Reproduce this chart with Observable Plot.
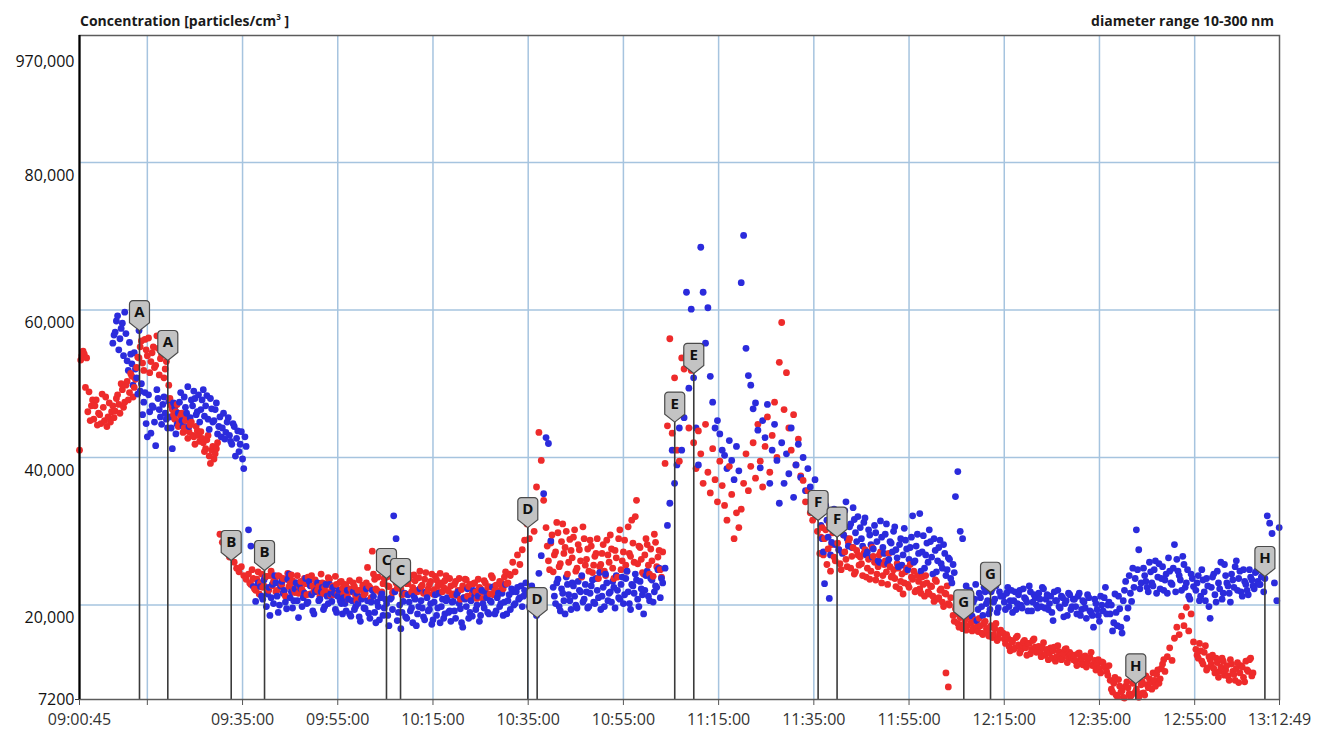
<!DOCTYPE html>
<html>
<head>
<meta charset="utf-8">
<script src="https://cdn.jsdelivr.net/npm/d3@7"></script>
<script src="https://cdn.jsdelivr.net/npm/@observablehq/plot@0.6"></script>
<style>
  body { margin: 0; background: #fff; font-family: "Open Sans", sans-serif; }
  #wrap { position: relative; width: 1322px; height: 731px; }
  .title { position: absolute; top: 11px; font-weight: 700; font-size: 14px; color: #1a1a1a; white-space: nowrap; }
  .title sup { font-size: 8px; vertical-align: 6px; line-height: 0; }
  #chart { position: absolute; left: 0; top: 0; }
</style>
</head>
<body>
<div id="wrap">
  <div id="chart"></div>
  <div class="title" style="left:80px">Concentration [particles/cm<sup>3</sup> ]</div>
  <div class="title" style="right:48px">diameter range 10-300 nm</div>
</div>
<script>
// ---- time axis ----
const startTime = "09:00:45";
const endTime = "13:12:49";
const sampleSeconds = 30; // one reading every 30 s, index 0 = startTime (x.5 = 15 s later)
const gridTimes = ["09:15:00","09:35:00","09:55:00","10:15:00","10:35:00","10:55:00","11:15:00","11:35:00","11:55:00","12:15:00","12:35:00","12:55:00"];
const tickTimes = ["09:00:45","09:15:00","09:35:00","09:55:00","10:15:00","10:35:00","10:55:00","11:15:00","11:35:00","11:55:00","12:15:00","12:35:00","12:55:00","13:12:49"];
const labelTimes = ["09:00:45","09:35:00","09:55:00","10:15:00","10:35:00","10:55:00","11:15:00","11:35:00","11:55:00","12:15:00","12:35:00","12:55:00","13:12:49"];

// ---- y axis ----
const yDomain = [7200, 97200];
const gridValues = [20000, 40000, 60000, 80000];
const bottomLabel = [7200];
const topLabel = "970,000";

// ---- series (values in thousand particles/cm3), [start index, values] ----
const redSegments = [
  [0, [41.0, 53.8, 54.0, 53.5, 48.9, 47.0]],
  [0.5, [53.2, 54.4, 49.5, 46.2, 45.0, 47.8]],
  [6, [45.2, 47.8, 46.0, 44.6, 46.8, 48.2, 45.5, 44.8, 47.0, 46.3]],
  [6.5, [47.0, 44.4, 45.8, 48.6, 45.0, 44.2, 47.4, 46.2, 45.4, 48.0]],
  [16, [48.5, 46.0, 49.2, 47.5, 50.3, 48.8, 51.0, 49.5, 52.2]],
  [16.5, [47.2, 50.0, 46.8, 49.8, 47.8, 51.4, 48.2, 50.6, 53.6]],
  [25, [53.5, 55.8, 51.8, 54.6, 56.2, 53.0, 55.0, 52.5, 54.8, 53.4, 55.5, 52.0, 53.8]],
  [25.5, [55.0, 52.8, 56.0, 53.8, 51.5, 54.2, 52.2, 56.5, 51.2, 54.0, 50.8, 53.0, 49.8]],
  [38, [48.0, 46.5, 45.2, 47.2, 44.8, 46.0, 44.0, 45.5, 43.5, 44.8, 42.8, 44.2, 43.0]],
  [38.5, [47.0, 45.8, 46.2, 44.2, 45.6, 43.4, 45.0, 42.6, 44.4, 43.0, 41.8, 43.6, 42.2]],
  [51, [43.5, 42.0, 41.2, 43.0, 39.2, 41.5, 40.5, 42.0]],
  [51.5, [42.6, 40.8, 42.4, 40.2, 41.0, 39.8, 41.2]],
  [59, [29.6, 28.5, 28.0]],
  [62, [27.5, 26.5, 27.0, 25.8, 25.0, 24.5, 25.2, 24.0, 23.5]],
  [71, [24.2, 22.8, 23.6, 22.0, 24.5, 23.0, 22.4, 23.8, 21.8, 24.0, 22.6, 23.4, 22.0, 23.9, 22.8, 21.9, 23.5, 22.5, 24.1, 22.2, 23.0, 21.6]],
  [71.5, [23.0, 24.8, 22.2, 23.5, 21.5, 24.2, 22.6, 23.9, 22.0, 24.6, 23.2, 21.8, 24.0, 22.5, 23.6, 21.2, 24.3, 22.9, 23.3, 21.7, 24.0, 22.4]],
  [93, [23.2, 21.8, 22.9, 23.8, 21.5, 22.6, 23.4, 22.0, 21.2, 23.0, 22.4, 21.7, 23.5, 22.3, 21.4, 22.8, 22.0, 23.2]],
  [93.5, [22.1, 23.6, 21.4, 22.8, 24.0, 21.9, 23.0, 22.5, 24.2, 21.6, 22.9, 23.7, 21.3, 22.6, 23.9, 21.5, 23.1, 22.3]],
  [111, [21.5, 22.6, 20.8, 22.2, 23.0, 21.3, 22.0, 20.9, 22.7, 21.6, 25.1, 22.4, 27.3, 23.5, 22.0, 25.0, 21.8, 23.6]],
  [111.5, [22.8, 21.2, 23.3, 21.8, 22.5, 20.6, 23.4, 22.1, 21.4, 23.0, 22.6, 21.0, 24.2, 22.2, 23.8, 21.6, 22.9, 24.4]],
  [129, [23.8, 22.5, 24.4, 21.9, 23.0, 24.8, 22.2, 23.6, 21.5, 22.9, 24.0, 22.4, 23.3, 21.8, 24.6, 22.7, 23.5, 21.6, 22.8, 24.2, 22.1, 23.4, 21.7, 23.0, 22.4, 24.0, 21.9, 22.6]],
  [129.5, [22.6, 23.9, 21.7, 24.2, 22.3, 23.1, 21.4, 24.5, 22.9, 23.5, 21.8, 24.1, 22.0, 23.7, 22.5, 21.6, 24.4, 22.2, 23.2, 21.5, 23.9, 22.6, 24.3, 21.8, 23.3, 22.1, 23.6, 21.4]],
  [157, [21.5, 23.2, 22.0, 20.8, 22.6, 23.5, 21.2, 22.8, 21.6, 23.0, 20.9, 22.4, 21.8, 23.3, 21.0, 22.5, 24.0, 21.4, 22.7, 21.9, 23.1, 22.2, 24.5, 23.0]],
  [157.5, [22.8, 21.3, 23.6, 22.1, 21.0, 23.4, 22.5, 20.7, 22.9, 21.8, 23.5, 22.2, 20.9, 23.0, 22.4, 21.5, 23.7, 22.0, 21.2, 23.2, 22.6, 23.8, 22.9, 24.2]],
  [181, [24.0, 25.8, 24.5, 26.8, 25.5, 27.5, 28.8]],
  [188, [31.0, 29.0, 32.2, 30.0, 36.0, 43.4, 39.6, 34.2]],
  [196, [30.5, 26.0, 28.4, 24.5, 27.2, 29.8, 25.6, 31.0, 27.8, 24.2, 28.9, 26.4, 30.2, 25.0, 27.5, 23.8, 29.0, 26.2, 24.6, 28.0, 25.4, 27.0, 23.6]],
  [196.5, [28.0, 24.8, 29.5, 26.8, 31.2, 25.2, 28.6, 27.0, 30.0, 25.8, 27.4, 29.2, 24.6, 28.2, 26.0, 30.6, 25.4, 27.6, 28.8, 24.4, 26.6, 29.0, 25.2]],
  [219, [25.5, 28.2, 24.0, 26.8, 29.5, 25.0, 27.4, 23.8, 30.2, 26.0, 28.8, 24.6, 27.0, 31.5, 25.8, 34.2, 28.0, 26.2, 24.2, 29.0, 25.4, 27.6, 23.9, 28.5, 26.5, 24.8, 27.2]],
  [219.5, [27.0, 24.6, 28.8, 25.8, 27.6, 23.6, 26.4, 29.0, 24.8, 27.2, 25.4, 30.6, 26.6, 28.4, 32.0, 25.6, 27.8, 24.4, 26.8, 28.2, 24.2, 26.0, 29.6, 25.2, 27.4, 23.8]],
  [246, [39.2, 44.3, 56.1, 43.3, 50.8, 41.0, 39.5]],
  [253, [53.5, 52.0, 54.0, 44.0, 51.8, 42.0, 38.5, 43.6]],
  [261, [40.5, 36.5, 44.5, 38.0, 35.2, 41.2, 37.0, 34.0, 39.5, 36.2, 33.5, 31.5, 38.8, 35.0, 29.0, 32.5, 30.5]],
  [278, [33.0, 36.5, 40.5, 35.5, 38.8, 42.0, 37.2, 44.5, 39.5, 36.0, 41.5, 45.5, 38.0, 43.0, 47.5, 40.0, 52.9]],
  [295, [58.3, 46.5, 51.5, 44.0, 41.0, 45.8, 39.0, 42.5, 37.5]],
  [304, [36.9, 34.0, 35.5, 32.5, 31.5, 33.5, 30.0]],
  [311, [27.0, 30.5, 29.0, 25.5, 31.0, 28.2, 26.5, 30.0, 27.5, 24.8, 29.5, 26.2, 28.5, 25.0, 27.8, 24.5, 26.8]],
  [311.5, [29.2, 26.8, 30.2, 27.6, 24.6, 29.8, 26.0, 28.4, 25.6, 30.6, 27.2, 25.2, 29.0, 26.6, 24.2, 27.4, 25.4]],
  [328, [26.5, 24.0, 27.5, 25.0, 23.5, 27.8, 25.8, 24.2, 26.8, 23.0, 25.5, 24.5, 27.0, 23.8]],
  [342, [24.8, 22.5, 25.0, 23.2, 21.5, 24.5, 22.8, 25.5, 23.5, 21.8, 24.0, 22.2, 23.8, 21.2]],
  [356, [23.0, 21.5, 22.5, 20.5, 23.2, 21.0, 22.2, 19.8, 21.5, 20.2, 21.0]],
  [328.5, [25.6, 27.0, 23.8, 26.2, 24.6, 26.6, 23.4, 25.2, 27.2, 24.0, 26.0, 22.8, 25.2, 24.0,
           23.6, 25.6, 22.2, 24.2, 23.0, 25.0, 22.4, 23.8, 24.6, 22.0, 23.2, 21.6, 22.8, 24.0,
           21.8, 22.6, 21.2, 23.4, 20.8, 22.0, 20.4, 21.6, 22.6, 20.0]],
  [364, [10.8, 8.9]],
  [367, [18.6, 19.5, 17.5, 18.3, 16.8, 18.0, 17.2, 19.0, 16.5, 17.8, 17.0, 18.2, 16.2, 17.5, 16.8, 15.8, 17.2, 16.0, 17.5, 15.5, 16.6]],
  [367.5, [17.8, 18.8, 17.0, 18.6, 17.4, 16.6, 18.4, 17.6, 16.9, 18.0, 16.4, 17.2, 16.0, 17.8, 16.4, 17.0, 15.6, 16.8, 15.2, 16.2]],
  [388, [16.2, 14.8, 15.5, 13.8, 15.0, 14.2, 15.8, 13.5, 14.6, 15.2, 13.2, 14.8, 14.0, 15.4, 13.6]],
  [403, [14.4, 13.0, 14.9, 13.4, 12.6, 14.2, 13.8, 12.4, 14.5, 13.1, 12.8, 14.0, 12.2, 13.6, 12.9]],
  [418, [13.2, 11.8, 13.5, 12.4, 13.0, 11.6, 12.8, 13.6, 12.0, 11.2, 12.6, 10.8, 12.2, 11.5, 10.5]],
  [388.5, [15.4, 16.0, 14.4, 15.2, 14.0, 15.6, 14.6, 13.9, 15.0, 14.2, 14.8, 13.4, 15.2, 14.3, 13.8,
           13.6, 14.2, 13.2, 14.0, 13.5, 12.8, 14.3, 13.0, 13.7, 12.6, 13.4, 14.1, 12.9, 13.3, 12.6,
           12.4, 13.4, 12.7, 11.9, 13.1, 12.3, 12.9, 11.8, 12.5, 12.0, 11.4, 12.3, 11.7, 11.0, 11.8]],
  [433, [9.8, 8.2, 10.2, 7.6, 9.0, 8.4, 7.4, 9.6, 8.0, 7.8, 10.0, 8.6, 7.5, 9.2, 8.1, 10.4, 8.8, 9.5, 10.8, 9.0, 11.2, 10.0, 12.0, 11.0]],
  [433.5, [8.6, 9.4, 7.8, 9.9, 8.2, 7.5, 9.0, 8.8, 7.6, 9.4, 8.2, 10.2, 8.0, 9.6, 7.8, 9.2, 10.0, 8.6, 9.8, 10.6, 9.4, 11.4, 12.6]],
  [457, [13.0, 14.2, 12.5, 15.5, 17.0, 16.0, 18.5, 17.2, 19.7, 16.5, 18.8, 15.0]],
  [469, [14.0, 12.8, 13.8, 12.0, 14.5, 11.5, 12.6, 13.2, 10.8, 12.2, 11.0, 12.8, 10.5, 11.8, 9.8, 12.0, 10.6, 11.4, 9.5, 11.8, 10.2, 12.4, 11.0, 12.8, 10.8]],
  [469.5, [13.2, 14.8, 12.4, 13.6, 11.2, 13.0, 12.0, 11.4, 12.8, 10.2, 11.6, 12.4, 11.2, 10.4, 12.6, 11.0, 9.8, 12.2, 10.8, 11.6, 9.6, 11.2, 12.6, 10.4]]
];

const blueSegments = [
  [14, [55.5, 57.0, 59.2, 56.1, 58.2, 59.7, 53.1, 55.6, 52.7, 54.2, 50.8]],
  [14.5, [56.6, 58.5, 54.6, 57.5, 53.8, 56.8, 51.8, 54.0, 49.8, 52.0, 48.6]],
  [25, [57.2, 50.0, 47.5, 44.6, 48.5, 43.3, 46.8, 41.6, 48.0, 45.5, 47.2, 46.0, 44.0]],
  [25.5, [49.0, 45.8, 48.8, 42.8, 46.2, 47.0, 44.8, 49.2, 46.5, 44.5, 48.2, 45.2, 47.6]],
  [38, [45.5, 41.2, 46.8, 44.5, 47.5, 45.0, 48.2, 46.0, 44.2, 47.8, 49.0, 45.8, 48.5]],
  [38.5, [44.0, 47.4, 43.2, 46.0, 48.8, 44.2, 46.8, 49.6, 45.4, 47.0, 48.0, 46.2, 44.8]],
  [51, [46.5, 49.2, 47.0, 45.2, 48.0, 44.8, 46.5, 43.2, 45.5, 44.0, 42.5, 44.8]],
  [51.5, [47.8, 45.6, 48.4, 43.8, 46.6, 45.0, 47.4, 44.2, 42.8, 46.0, 43.4, 45.4]],
  [63, [43.0, 41.8, 44.2, 42.6, 40.8, 43.5, 38.5, 41.5]],
  [63.5, [42.2, 44.6, 40.2, 43.6, 41.8, 39.8, 42.8]],
  [71, [30.2, 28.0, 22.5, 20.5, 23.0]],
  [76, [22.5, 20.8, 23.8, 21.5, 18.6, 22.8, 24.0, 21.2, 20.0, 23.2, 22.0, 19.5, 24.2, 21.8, 20.6]],
  [76.5, [21.2, 23.4, 19.8, 22.4, 21.0, 20.2, 23.0, 19.0, 22.6, 21.6, 20.4, 23.5, 21.0, 19.6, 22.2]],
  [91, [23.0, 18.3, 22.2, 21.0, 23.6, 20.4, 22.6, 19.2, 21.8, 23.0, 20.8, 22.4, 19.8, 21.2, 22.8]],
  [91.5, [20.6, 22.8, 19.8, 21.6, 20.2, 23.2, 21.4, 18.8, 22.0, 20.6, 21.8, 19.4, 22.8, 20.2, 21.5]],
  [106, [20.5, 21.6, 19.0, 22.0, 20.2]],
  [106.5, [22.4, 19.4, 21.2, 20.6, 18.8]],
  [111, [21.0, 19.2, 20.8, 18.5, 21.8, 19.8, 20.2, 17.8, 21.2, 19.5, 20.6, 18.2, 22.0, 19.0, 20.4, 18.0, 21.5, 19.6]],
  [111.5, [20.2, 22.0, 18.8, 20.6, 19.4, 21.6, 18.4, 20.8, 19.6, 22.2, 18.9, 20.4, 21.2, 17.6, 19.8, 21.0, 18.6, 20.8]],
  [129, [20.2, 17.2, 21.0, 32.1, 29.0, 19.0, 16.8, 20.5, 18.4, 21.4, 19.2, 17.6, 20.8, 18.8, 22.2, 19.6, 18.0, 21.0, 19.4, 17.4, 20.4, 18.6, 21.6, 19.8, 18.2, 20.6, 19.0, 17.8]],
  [129.5, [18.6, 20.8, 19.4, 21.8, 17.9, 20.0, 19.0, 21.6, 18.2, 20.4, 19.6, 21.2, 17.2, 19.8, 20.6, 18.4, 21.8, 19.2, 20.2, 18.0, 21.4, 19.6, 17.6, 20.8, 18.8, 21.0, 19.2, 20.4]],
  [157, [20.5, 18.2, 21.8, 19.5, 17.0, 20.8, 22.2, 19.0, 18.5, 21.2, 20.0, 17.8, 22.0, 19.6, 21.0, 18.8, 20.4, 22.5, 19.2, 21.6, 20.2, 18.6, 22.8, 20.6, 19.4, 21.8, 20.2, 22.4, 21.0, 19.8, 22.0]],
  [157.5, [19.2, 21.4, 20.2, 17.6, 21.0, 19.8, 18.2, 20.6, 22.0, 19.4, 21.2, 18.6, 20.2, 21.8, 19.0, 20.6, 22.4, 18.8, 21.0, 19.8, 21.6, 20.4, 18.8, 21.4, 22.2, 20.0, 21.8, 20.8, 22.6, 21.2, 23.0]],
  [188, [21.5, 19.8, 22.6, 20.4, 18.6, 24.3, 26.7, 35.1]],
  [196, [42.7, 41.9, 28.7]],
  [199, [22.4, 20.2, 23.5, 19.2, 21.6, 18.8, 22.8, 20.6, 23.0, 21.2, 19.6, 22.0, 24.0, 20.8, 21.8]],
  [214, [19.8, 22.6, 20.4, 23.6, 21.0, 19.4, 22.4, 24.2, 20.6, 21.8, 23.2, 19.6, 22.0, 20.8, 23.8]],
  [229, [21.4, 24.6, 20.2, 22.8, 21.6, 23.4, 19.8, 22.2, 18.8, 24.0, 21.2, 23.6, 20.4, 22.6, 24.8, 21.0, 23.0]],
  [199.5, [21.2, 23.0, 19.8, 22.2, 20.6, 23.8, 21.4, 19.4, 22.6, 20.0, 23.2, 21.8, 20.4, 22.8, 19.6,
           21.6, 23.4, 20.2, 22.0, 24.4, 21.2, 19.8, 23.0, 21.6, 20.4, 22.4, 24.0, 21.0, 22.8, 20.2,
           23.6, 21.8, 19.4, 22.6, 24.2, 20.8, 23.2, 21.4, 22.0, 24.6, 20.6, 23.4, 21.8, 22.4, 25.0, 23.6]],
  [246, [25.0, 30.8, 33.8, 41.0, 36.5, 39.0, 44.0]],
  [253, [41.0, 45.4, 62.4, 49.4, 60.1, 50.8, 44.0, 39.0]],
  [261, [68.5, 62.4, 55.5, 60.3, 51.0, 47.5, 44.0, 45.0, 43.2, 41.0, 40.3, 38.5, 42.3, 39.6, 37.0, 41.5, 38.2]],
  [278, [63.7, 70.1, 54.8, 51.1, 49.8, 46.6]],
  [284, [47.4, 43.7, 38.6, 45.0, 42.7, 47.2, 36.5, 41.0, 44.5, 39.6, 33.8, 42.0, 36.5, 40.5, 37.8, 44.0, 34.6, 39.0, 41.8, 37.3, 40.0, 35.5, 38.5, 36.0, 34.5, 37.0, 33.0]],
  [311, [32.5, 29.0, 22.9, 31.5, 20.9, 28.5, 33.0, 30.0, 27.5, 31.8, 29.5, 34.0, 28.0, 31.0, 33.2, 29.8, 32.0]],
  [311.5, [30.8, 27.2, 33.5, 29.2, 26.8, 31.2, 28.2, 32.6, 30.4, 27.0, 32.8, 29.0, 30.6, 27.8, 31.6, 28.6]],
  [328, [30.5, 28.0, 31.8, 27.2, 29.5, 26.5, 30.8, 28.6, 25.8, 29.2, 27.0, 31.0, 26.2, 28.4, 30.0]],
  [343, [27.5, 25.2, 29.0, 26.8, 28.8, 24.8, 27.8, 32.1, 26.0, 29.6, 32.4, 27.2, 25.0, 28.4, 30.2]],
  [358, [26.5, 29.0, 24.5, 27.8, 25.6, 28.2, 24.0, 26.4, 23.6, 25.5, 34.7, 38.1, 30.0]],
  [328.5, [29.0, 31.2, 26.8, 30.2, 28.2, 27.6, 29.8, 26.0, 31.4, 27.8, 29.6, 25.6, 28.6, 27.2, 30.6,
           26.4, 28.2, 25.4, 30.4, 27.6, 26.2, 29.2, 25.8, 28.0, 27.0, 24.6, 29.4, 26.8, 25.8, 28.6,
           24.2, 27.4, 26.0, 28.8, 25.0, 27.0, 24.8, 26.2, 23.0, 24.4]],
  [371, [29.0, 21.5, 19.5, 22.0, 18.5, 20.8, 17.9, 21.6, 19.8, 22.4, 20.2, 18.8, 21.8, 20.4, 22.6, 19.6, 21.2]],
  [371.5, [20.8, 22.6, 19.0, 21.2, 20.4, 22.8, 19.4, 21.0, 18.6, 21.8, 20.6, 19.4, 22.2, 20.8, 19.0, 21.8]],
  [388, [21.2, 19.4, 22.4, 20.6, 19.0, 21.8, 20.2, 22.0, 19.6, 21.0, 20.4, 22.6, 19.2, 21.4, 20.0]],
  [403, [21.6, 19.8, 22.2, 20.8, 19.4, 21.2, 17.9, 20.6, 22.0, 19.6, 21.0, 20.2, 18.6, 21.4, 19.8]],
  [418, [20.8, 18.8, 21.6, 19.4, 20.4, 18.2, 21.0, 19.0, 17.0, 20.2, 18.6, 21.2, 19.2, 22.4, 20.0]],
  [388.5, [20.4, 21.6, 19.8, 22.0, 20.6, 19.4, 21.4, 20.0, 22.2, 20.8, 19.2, 21.8, 20.4, 21.0, 19.6,
           20.8, 22.4, 19.6, 21.4, 20.2, 19.0, 21.8, 20.6, 19.8, 21.2, 18.4, 20.6, 21.6, 19.4, 20.8,
           19.8, 21.2, 18.6, 20.6, 19.6, 21.4, 19.2, 18.6, 20.8, 19.4, 17.8, 20.0, 21.0, 18.8, 20.4]],
  [433, [18.8, 16.5, 21.5, 17.2, 19.5, 16.2, 22.0, 18.2, 24.0, 20.5, 22.4, 30.2, 27.5, 23.0]],
  [433.5, [20.0, 17.6, 19.0, 21.2, 17.0, 20.6, 23.2, 19.6, 21.6, 25.0, 23.6, 24.8, 22.2]],
  [447, [25.0, 23.2, 21.8, 24.5, 22.6, 26.0, 23.8, 22.2, 25.2, 23.4, 21.6, 24.6, 22.8, 28.2, 26.2, 24.0, 22.0, 25.5, 23.0, 21.2, 24.2, 22.5]],
  [447.5, [24.0, 22.4, 25.8, 23.0, 24.8, 21.6, 25.6, 23.6, 22.0, 24.2, 26.4, 23.0, 25.0, 21.8, 24.6, 23.4, 26.6, 22.4, 24.8, 20.8, 23.6]],
  [469, [22.0, 24.0, 21.2, 23.4, 20.6, 22.6, 18.2, 23.8, 21.4, 24.6, 22.2, 20.8, 25.5, 23.0, 21.6]],
  [484, [24.2, 22.4, 26.0, 23.6, 21.8, 24.8, 22.8, 21.4, 23.8, 22.6, 24.4, 23.2, 22.8, 24.0, 23.6]],
  [499, [32.1, 31.1, 29.7, 23.0, 20.6, 30.5]],
  [469.5, [23.0, 20.6, 24.8, 21.8, 23.6, 19.8, 22.4, 24.2, 20.4, 23.0, 25.8, 21.6, 24.0, 22.6, 20.4,
           23.4, 25.2, 22.0, 24.6, 21.2, 23.2, 22.0, 24.8, 23.4, 22.2, 24.6, 22.8, 23.8, 21.8]]
];

// ---- event markers ----
const markerLabels = ["A","A","B","B","C","C","D","D","E","E","F","F","G","G","H","H"];
const markerTimes = ["09:13:21","09:19:18","09:32:37","09:39:37","10:05:14","10:08:11","10:34:55","10:36:53","11:05:47","11:09:47","11:35:54","11:39:53","12:06:30","12:12:07","12:42:38","13:09:45"];
const markerValues = [57200, 53150, 26040, 24685, 23600, 22245, 30500, 18300, 44800, 51400, 31460, 29200, 18000, 21740, 9330, 23870];

// ---- colours ----
const redColor = "#ee2b2b";
const blueColor = "#2b2bdc";
const gridColor = "#a6c4df";

// ---- build tables ----
const parseT = s => { const [h, m, sec] = s.split(":").map(Number); return new Date(2024, 0, 1, h, m, sec); };
const t0 = parseT(startTime);
const t1 = parseT(endTime);
function expand(segments, color) {
  const out = [];
  for (const [start, vals] of segments) {
    vals.forEach((v, k) => {
      if (v != null) out.push({ t: new Date(+t0 + (start + k) * sampleSeconds * 1000), v: v * 1000, c: color });
    });
  }
  return out;
}
const points = expand(redSegments, redColor).concat(expand(blueSegments, blueColor))
  .sort((a, b) => a.t - b.t);
const markers = markerLabels.map((label, i) => ({ label, t: parseT(markerTimes[i]), v: markerValues[i] }));

const pin = {
  draw(ctx) {
    const w = 10, h = 30, b = 8, r = 3.5;
    ctx.moveTo(0, 0);
    ctx.lineTo(-w, -b);
    ctx.lineTo(-w, -h + r);
    ctx.arcTo(-w, -h, -w + r, -h, r);
    ctx.lineTo(w - r, -h);
    ctx.arcTo(w, -h, w, -h + r, r);
    ctx.lineTo(w, -b);
    ctx.closePath();
  }
};
const fmt = d3.timeFormat("%H:%M:%S");

const chart = Plot.plot({
  width: 1322,
  height: 731,
  marginLeft: 79,
  marginRight: 43,
  marginTop: 35,
  marginBottom: 32,
  style: { fontFamily: '"Open Sans", sans-serif', background: "transparent", color: "#333", overflow: "visible" },
  x: { type: "time", domain: [t0, t1], axis: null, label: null },
  y: { domain: yDomain, axis: null, label: null },
  marks: [
    Plot.ruleX(gridTimes.map(parseT), { stroke: gridColor, strokeWidth: 1.5 }),
    Plot.ruleY(gridValues, { stroke: gridColor, strokeWidth: 1.5 }),
    Plot.dot(points, { x: "t", y: "v", r: 3.4, fill: "c" }),
    Plot.ruleX(markers, { x: "t", y1: yDomain[0], y2: "v", stroke: "#3a3a3a", strokeWidth: 1.6 }),
    Plot.dot(markers, { x: "t", y: "v", symbol: pin, r: 5, fill: "#c3c3c3", stroke: "#4a4a4a", strokeWidth: 1.2 }),
    Plot.text(markers, { x: "t", y: "v", text: "label", dy: -18, fontWeight: "bold", fontSize: 15, fill: "#111" }),
    Plot.frame({ stroke: "#5c5c5c", strokeWidth: 1.5 }),
    Plot.ruleX([t0], { stroke: "#000", strokeWidth: 2.2 }),
    Plot.axisX(tickTimes.map(parseT), { tickSize: 6, text: null, stroke: "#555", label: null }),
    Plot.axisX(labelTimes.map(parseT), { tickSize: 0, tickPadding: 14, tickFormat: fmt, fontSize: 16, fill: "#333", label: null }),
    Plot.axisY(gridValues, { tickSize: 0, tickPadding: 5, dy: 13, tickFormat: d3.format(","), fontSize: 16, fill: "#111", label: null }),
    Plot.axisY(bottomLabel, { tickSize: 4, tickPadding: 1, tickFormat: d => String(d), fontSize: 16, fill: "#111", stroke: "#333", label: null }),
    Plot.text([topLabel], { frameAnchor: "top-left", text: d => d, textAnchor: "end", dx: -5, dy: 20, fontSize: 16, fill: "#111" })
  ]
});
document.getElementById("chart").appendChild(chart);
</script>
</body>
</html>
